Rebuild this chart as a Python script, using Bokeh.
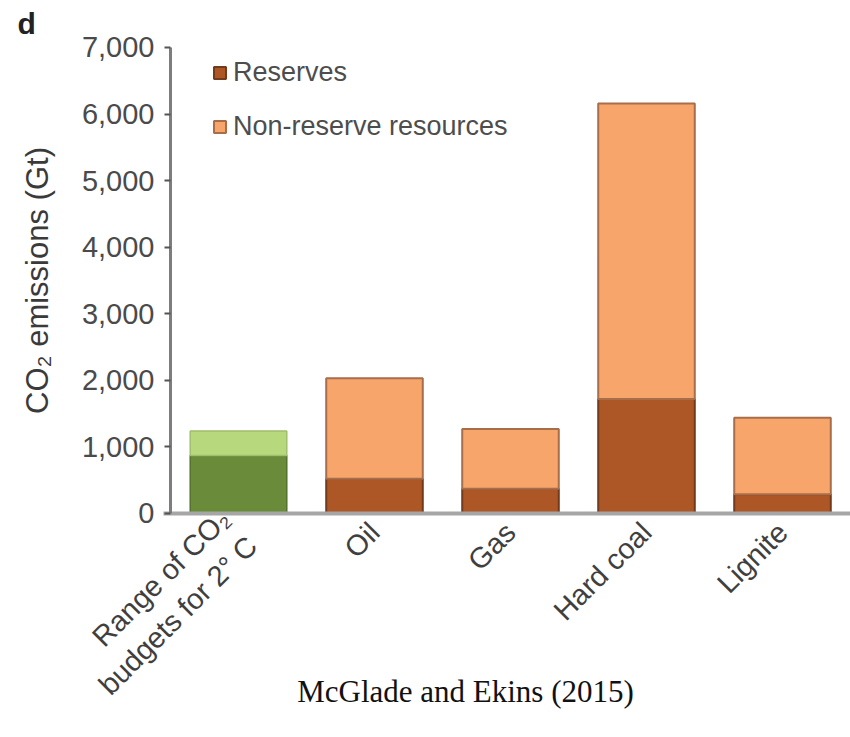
import math
from bokeh.plotting import figure
from bokeh.models import (ColumnDataSource, Range1d, Legend, LegendItem,
                          Label, FixedTicker, NumeralTickFormatter)
from bokeh.embed import file_html
from bokeh.resources import INLINE

# Categories along the x axis
categories = ["Range of CO\u2082\nbudgets for 2\u00b0 C", "Oil", "Gas", "Hard coal", "Lignite"]
fuels = ["Oil", "Gas", "Hard coal", "Lignite"]

# CO2 emissions embodied in fossil fuels (Gt)
reserves = [520, 370, 1720, 290]
non_reserve = [1510, 900, 4440, 1150]

# Range of carbon budgets for 2 C (Gt CO2)
budget_low = [870]
budget_high = [1240]

y_ticks = [0, 1000, 2000, 3000, 4000, 5000, 6000, 7000]

FONT = "Liberation Sans"

# Category slots 0..n-1; the plotting area covers the whole canvas and both
# axes are pinned inside it, leaving room for the slanted labels and notes.
pos = {c: i for i, c in enumerate(categories)}
Y_MAX = 7000

p = figure(width=850, height=737, x_range=Range1d(-1.75, 4.5),
           y_range=Range1d(-3365, 7706), output_backend="svg", toolbar_location=None,
           min_border_left=0, min_border_right=0, min_border_top=0, min_border_bottom=0)

fuel_src = ColumnDataSource(dict(
    x=[pos[f] for f in fuels],
    res=reserves,
    top=[r + n for r, n in zip(reserves, non_reserve)],
))
budget_src = ColumnDataSource(dict(
    x=[pos[categories[0]]],
    low=budget_low,
    high=budget_high,
))

W = 0.71
# carbon budget bar: lower bound in dark green, range up to upper bound in light green
p.vbar(x="x", bottom=0, top="low", width=W, source=budget_src,
       fill_color="#6a8c3a", line_color="#55722d", line_width=1.5)
p.vbar(x="x", bottom="low", top="high", width=W, source=budget_src,
       fill_color="#b7d87d", line_color="#9fbf6a", line_width=1.5)

r_res = p.vbar(x="x", bottom=0, top="res", width=W, source=fuel_src,
               fill_color="#ad5726", line_color="#743a1c", line_width=2)
r_non = p.vbar(x="x", bottom="res", top="top", width=W, source=fuel_src,
               fill_color="#f8a56b", line_color="#a86e4a", line_width=2)

p.xgrid.visible = False
p.ygrid.visible = False
p.outline_line_color = None

yax = p.yaxis[0]
yax.fixed_location = -0.5
yax.bounds = (0, Y_MAX)
yax.ticker = FixedTicker(ticks=y_ticks)
yax.formatter = NumeralTickFormatter(format="0,0")
yax.axis_line_color = "#7d7d7d"
yax.axis_line_width = 3
yax.major_tick_line_color = "#555555"
yax.major_tick_line_width = 2
yax.major_tick_out = 6
yax.major_tick_in = 0
yax.minor_tick_line_color = None
yax.major_label_text_font = FONT
yax.major_label_text_font_size = "29px"
yax.major_label_text_color = "#4a4a4a"
yax.major_label_standoff = 10

xax = p.xaxis[0]
xax.fixed_location = 0
xax.bounds = (-0.55, 4.5)
xax.ticker = FixedTicker(ticks=list(range(len(categories))))
xax.major_label_overrides = {i: c for i, c in enumerate(categories)}
xax.axis_line_color = "#a6a6a6"
xax.axis_line_width = 4
xax.major_tick_line_color = None
xax.minor_tick_line_color = None
xax.major_label_orientation = math.pi / 4
xax.major_label_text_font = FONT
xax.major_label_text_font_size = "29px"
xax.major_label_text_color = "#3f3f3f"
xax.major_label_standoff = 8

# y axis title
p.add_layout(Label(x=37, y=457, x_units="screen", y_units="screen",
                   text="CO\u2082 emissions (Gt)", angle=math.pi / 2,
                   text_align="center", text_baseline="middle",
                   text_font=FONT, text_font_size="31px", text_color="#3a3a3a"))

legend = Legend(items=[LegendItem(label="Reserves", renderers=[r_res]),
                       LegendItem(label="Non-reserve resources", renderers=[r_non])],
                location=(212, 595), orientation="vertical",
                label_text_font=FONT, label_text_font_size="27px", label_text_color="#4d4d4d",
                glyph_width=15, glyph_height=15, label_height=30, label_standoff=6,
                spacing=23, padding=0, margin=0,
                border_line_color=None, background_fill_alpha=0)
p.add_layout(legend)

# panel letter
p.add_layout(Label(x=17, y=714, x_units="screen", y_units="screen", text="d",
                   text_baseline="alphabetic",
                   text_font=FONT, text_font_style="bold", text_font_size="30px",
                   text_color="#222222"))

# source line under the chart
p.add_layout(Label(x=465, y=29, x_units="screen", y_units="screen",
                   text="McGlade and Ekins (2015)", text_align="center",
                   text_font="Liberation Serif", text_font_size="31px",
                   text_color="#111111"))

open("out.html", "w").write(file_html(p, INLINE))
